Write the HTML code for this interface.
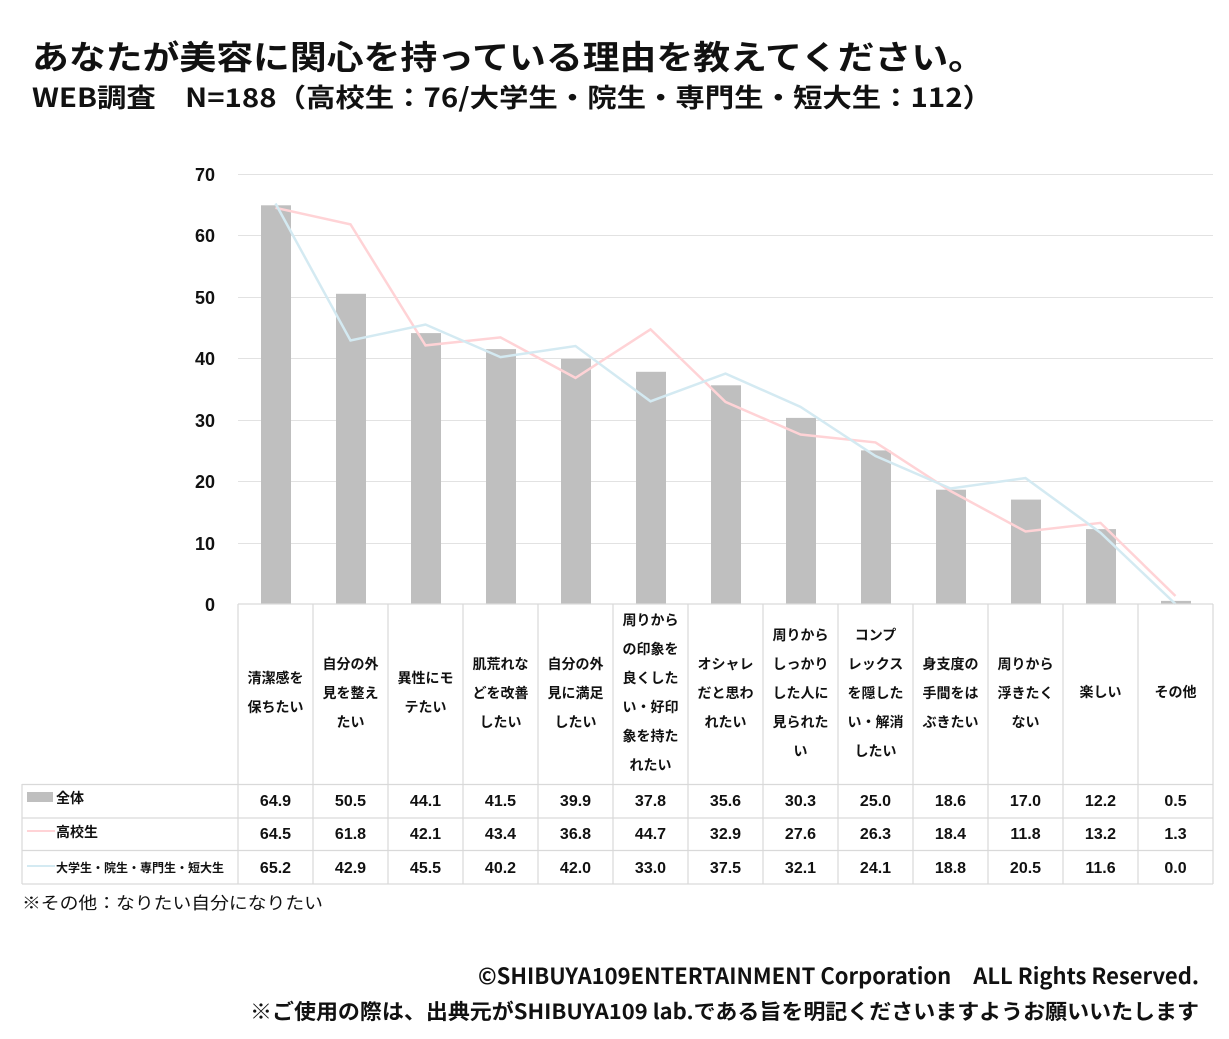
<!DOCTYPE html><html><head><meta charset="utf-8"><style>
body{margin:0;background:#fff;width:1229px;height:1034px;overflow:hidden}
text{font-family:"Liberation Sans","Noto Sans CJK JP",sans-serif;font-weight:bold;fill:#111}
.n{font-family:"Noto Sans CJK JP","Liberation Sans",sans-serif}
</style></head><body>
<svg width="1229" height="1034" xmlns="http://www.w3.org/2000/svg">
<text class="n" x="32" y="69" font-size="33" textLength="953" lengthAdjust="spacingAndGlyphs">あなたが美容に関心を持っている理由を教えてください。</text>
<text class="n" x="32" y="107" font-size="26" textLength="960" lengthAdjust="spacingAndGlyphs">WEB調査　N=188（高校生：76/大学生・院生・専門生・短大生：112）</text>
<g stroke="#e2e2e2" stroke-width="1">
<line x1="238" x2="1213" y1="174.5" y2="174.5"/><line x1="238" x2="1213" y1="235.5" y2="235.5"/>
<line x1="238" x2="1213" y1="297.5" y2="297.5"/><line x1="238" x2="1213" y1="358.5" y2="358.5"/>
<line x1="238" x2="1213" y1="420.5" y2="420.5"/><line x1="238" x2="1213" y1="481.5" y2="481.5"/>
<line x1="238" x2="1213" y1="543.5" y2="543.5"/>
</g>
<g font-size="18" text-anchor="end">
<text x="215" y="181">70</text><text x="215" y="242">60</text><text x="215" y="304">50</text><text x="215" y="365">40</text><text x="215" y="427">30</text><text x="215" y="488">20</text><text x="215" y="550">10</text><text x="215" y="611">0</text>
</g>
<g fill="#bfbfbf">
<rect x="261" y="205.3" width="30" height="398.7"/>
<rect x="336" y="293.8" width="30" height="310.2"/>
<rect x="411" y="333.1" width="30" height="270.9"/>
<rect x="486" y="349.1" width="30" height="254.9"/>
<rect x="561" y="358.9" width="30" height="245.1"/>
<rect x="636" y="371.8" width="30" height="232.2"/>
<rect x="711" y="385.3" width="30" height="218.7"/>
<rect x="786" y="417.9" width="30" height="186.1"/>
<rect x="861" y="450.4" width="30" height="153.6"/>
<rect x="936" y="489.7" width="30" height="114.3"/>
<rect x="1011" y="499.6" width="30" height="104.4"/>
<rect x="1086" y="529.1" width="30" height="74.9"/>
<rect x="1161" y="600.9" width="30" height="3.1"/>
</g>
<polyline fill="none" stroke="#ffd3d6" stroke-width="2.5" points="275.5,207.8 350.5,224.4 425.5,345.4 500.5,337.4 575.5,377.9 650.5,329.4 725.5,401.9 800.5,434.5 875.5,442.4 950.5,491 1025.5,531.5 1100.5,522.9 1175.5,596"/>
<polyline fill="none" stroke="#d4eaf2" stroke-width="2.5" points="275.5,203.5 350.5,340.5 425.5,324.5 500.5,357.1 575.5,346 650.5,401.3 725.5,373.6 800.5,406.8 875.5,456 950.5,488.5 1025.5,478.1 1100.5,532.7 1175.5,604"/>
<g stroke="#d9d9d9" stroke-width="1.2" fill="none">
<line x1="238" x2="1213" y1="604" y2="604"/>
<line x1="22" x2="1213" y1="784.5" y2="784.5"/><line x1="22" x2="1213" y1="818" y2="818"/>
<line x1="22" x2="1213" y1="850.5" y2="850.5"/><line x1="22" x2="1213" y1="884" y2="884"/>
<line x1="22" x2="22" y1="784" y2="884"/>
<line x1="238" x2="238" y1="604" y2="884"/><line x1="313" x2="313" y1="604" y2="884"/><line x1="388" x2="388" y1="604" y2="884"/><line x1="463" x2="463" y1="604" y2="884"/><line x1="538" x2="538" y1="604" y2="884"/><line x1="613" x2="613" y1="604" y2="884"/><line x1="688" x2="688" y1="604" y2="884"/><line x1="763" x2="763" y1="604" y2="884"/><line x1="838" x2="838" y1="604" y2="884"/><line x1="913" x2="913" y1="604" y2="884"/><line x1="988" x2="988" y1="604" y2="884"/><line x1="1063" x2="1063" y1="604" y2="884"/><line x1="1138" x2="1138" y1="604" y2="884"/><line x1="1213" x2="1213" y1="604" y2="884"/>
</g>
<g font-size="14" text-anchor="middle">
<text x="275.5" y="683">清潔感を</text><text x="275.5" y="712">保ちたい</text>
<text x="350.5" y="669">自分の外</text><text x="350.5" y="698">見を整え</text><text x="350.5" y="727">たい</text>
<text x="425.5" y="683">異性にモ</text><text x="425.5" y="712">テたい</text>
<text x="500.5" y="669">肌荒れな</text><text x="500.5" y="698">どを改善</text><text x="500.5" y="727">したい</text>
<text x="575.5" y="669">自分の外</text><text x="575.5" y="698">見に満足</text><text x="575.5" y="727">したい</text>
<text x="650.5" y="625">周りから</text><text x="650.5" y="654">の印象を</text><text x="650.5" y="683">良くした</text><text x="650.5" y="712">い・好印</text><text x="650.5" y="741">象を持た</text><text x="650.5" y="770">れたい</text>
<text x="725.5" y="669">オシャレ</text><text x="725.5" y="698">だと思わ</text><text x="725.5" y="727">れたい</text>
<text x="800.5" y="640">周りから</text><text x="800.5" y="669">しっかり</text><text x="800.5" y="698">した人に</text><text x="800.5" y="727">見られた</text><text x="800.5" y="756">い</text>
<text x="875.5" y="640">コンプ</text><text x="875.5" y="669">レックス</text><text x="875.5" y="698">を隠した</text><text x="875.5" y="727">い・解消</text><text x="875.5" y="756">したい</text>
<text x="950.5" y="669">身支度の</text><text x="950.5" y="698">手間をは</text><text x="950.5" y="727">ぶきたい</text>
<text x="1025.5" y="669">周りから</text><text x="1025.5" y="698">浮きたく</text><text x="1025.5" y="727">ない</text>
<text x="1100.5" y="697">楽しい</text>
<text x="1175.5" y="697">その他</text>
</g>
<rect x="27" y="792" width="26" height="10" fill="#bfbfbf"/>
<line x1="27" x2="55" y1="831" y2="831" stroke="#ffd3d6" stroke-width="2"/>
<line x1="27" x2="55" y1="866" y2="866" stroke="#d4eaf2" stroke-width="2"/>
<text x="56" y="803" font-size="14">全体</text>
<text x="56" y="837" font-size="14">高校生</text>
<text x="56" y="872" font-size="12">大学生・院生・専門生・短大生</text>
<g font-size="16" text-anchor="middle">
<text x="275.5" y="806">64.9</text><text x="350.5" y="806">50.5</text><text x="425.5" y="806">44.1</text><text x="500.5" y="806">41.5</text><text x="575.5" y="806">39.9</text><text x="650.5" y="806">37.8</text><text x="725.5" y="806">35.6</text><text x="800.5" y="806">30.3</text><text x="875.5" y="806">25.0</text><text x="950.5" y="806">18.6</text><text x="1025.5" y="806">17.0</text><text x="1100.5" y="806">12.2</text><text x="1175.5" y="806">0.5</text>
<text x="275.5" y="839">64.5</text><text x="350.5" y="839">61.8</text><text x="425.5" y="839">42.1</text><text x="500.5" y="839">43.4</text><text x="575.5" y="839">36.8</text><text x="650.5" y="839">44.7</text><text x="725.5" y="839">32.9</text><text x="800.5" y="839">27.6</text><text x="875.5" y="839">26.3</text><text x="950.5" y="839">18.4</text><text x="1025.5" y="839">11.8</text><text x="1100.5" y="839">13.2</text><text x="1175.5" y="839">1.3</text>
<text x="275.5" y="873">65.2</text><text x="350.5" y="873">42.9</text><text x="425.5" y="873">45.5</text><text x="500.5" y="873">40.2</text><text x="575.5" y="873">42.0</text><text x="650.5" y="873">33.0</text><text x="725.5" y="873">37.5</text><text x="800.5" y="873">32.1</text><text x="875.5" y="873">24.1</text><text x="950.5" y="873">18.8</text><text x="1025.5" y="873">20.5</text><text x="1100.5" y="873">11.6</text><text x="1175.5" y="873">0.0</text>
</g>
<text x="22" y="909" font-size="17" style="font-weight:normal" fill="#333" textLength="301" lengthAdjust="spacingAndGlyphs">※その他：なりたい自分になりたい</text>
<text class="n" x="478" y="984" font-size="22" textLength="721" lengthAdjust="spacingAndGlyphs">©SHIBUYA109ENTERTAINMENT Corporation　ALL Rights Reserved.</text>
<text class="n" x="250" y="1019" font-size="21" textLength="949" lengthAdjust="spacingAndGlyphs">※ご使用の際は、出典元がSHIBUYA109 lab.である旨を明記くださいますようお願いいたします</text>
</svg>
</body></html>
